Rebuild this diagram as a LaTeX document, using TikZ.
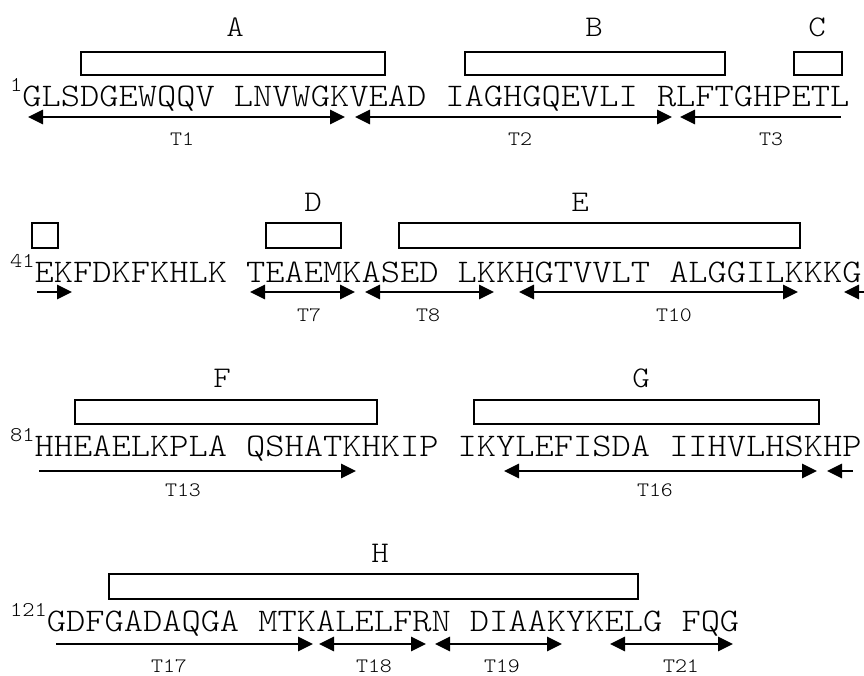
\documentclass[tikz,border=0pt]{standalone}
\usepackage{fontspec}
\setmonofont{Latin Modern Mono Light}[FakeStretch=1.11]
\usetikzlibrary{arrows.meta}
\newcommand{\seqfont}{\ttfamily\fontsize{33}{33}\selectfont}
\newcommand{\helfont}{\ttfamily\fontsize{30}{30}\selectfont}
\newcommand{\supfont}{\ttfamily\fontsize{21}{21}\selectfont}
\newcommand{\tlabfont}{\ttfamily\fontsize{20.5}{20.5}\selectfont}
\newcommand{\seqrow}[2]{\raisebox{15pt}{\supfont #1}{\seqfont #2}}
\tikzset{
  seq/.style={anchor=base west, inner sep=0pt},
  hlab/.style={anchor=base, inner sep=0pt, font=\helfont},
  tlab/.style={anchor=base, inner sep=0pt, font=\tlabfont},
  helix/.style={draw, line width=2.4pt, fill=white},
  tarrow/.style={line width=2.8pt, {Triangle[length=15pt,width=14pt]}-{Triangle[length=15pt,width=14pt]}},
  rarrow/.style={line width=2.8pt, -{Triangle[length=15pt,width=14pt]}},
  larrow/.style={line width=2.8pt, {Triangle[length=15pt,width=14pt]}-},
}
\begin{document}
\begin{tikzpicture}[x=1pt,y=-1pt]
\useasboundingbox (0,0) rectangle (864,675);
% ---- row 1
\node[seq] (r1) at (10,106) {\seqrow{1}{GLSDGEWQQV LNVWGKVEAD IAGHGQEVLI RLFTGHPETL}};
\draw[helix] (81,52) rectangle (385,75);
\draw[helix] (465,52) rectangle (725,75);
\draw[helix] (794,52) rectangle (842,75);
\node[hlab] (lA) at (235,36) {A};
\node[hlab] (lB) at (594,36) {B};
\node[hlab] (lC) at (817,36) {C};
\draw[tarrow] (28,117) -- (345,117);
\draw[tarrow] (355,117) -- (672,117);
\draw[larrow] (680,117) -- (841,117);
\node[tlab] (t1) at (182,145) {T1};
\node[tlab] (t2) at (520,145) {T2};
\node[tlab] (t3) at (771,145) {T3};
% ---- row 2
\node[seq] (r2) at (10,282) {\seqrow{41}{EKFDKFKHLK TEAEMKASED LKKHGTVVLT ALGGILKKKG}};
\draw[helix] (32,223) rectangle (58,248);
\draw[helix] (266,223) rectangle (341,248);
\draw[helix] (399,223) rectangle (800,248);
\node[hlab] (lD) at (313,211) {D};
\node[hlab] (lE) at (580,211) {E};
\draw[rarrow] (37,292) -- (72,292);
\draw[tarrow] (250,292) -- (355,292);
\draw[tarrow] (365,292) -- (494,292);
\draw[tarrow] (519,292) -- (798,292);
\draw[larrow] (844,292) -- (870,292);
\node[tlab] (t7) at (309,321) {T7};
\node[tlab] (t8) at (428,321) {T8};
\node[tlab] (t10) at (674,321) {T10};
% ---- row 3
\node[seq] (r3) at (10,456) {\seqrow{81}{HHEAELKPLA QSHATKHKIP IKYLEFISDA IIHVLHSKHP}};
\draw[helix] (75,400) rectangle (377,424);
\draw[helix] (474,400) rectangle (819,424);
\node[hlab] (lF) at (222,387) {F};
\node[hlab] (lG) at (641,387) {G};
\draw[rarrow] (39,471) -- (356,471);
\draw[tarrow] (504,471) -- (817,471);
\draw[larrow] (827,471) -- (853,471);
\node[tlab] (t13) at (183,496) {T13};
\node[tlab] (t16) at (655,496) {T16};
% ---- row 4
\node[seq] (r4) at (10,631) {\seqrow{121}{GDFGADAQGA MTKALELFRN DIAAKYKELG FQG}};
\draw[helix] (109,574) rectangle (638,599);
\node[hlab] (lH) at (380,562) {H};
\draw[rarrow] (56,644) -- (313,644);
\draw[tarrow] (319,644) -- (426,644);
\draw[tarrow] (435,644) -- (562,644);
\draw[tarrow] (610,644) -- (733,644);
\node[tlab] (t17) at (169,672) {T17};
\node[tlab] (t18) at (374,672) {T18};
\node[tlab] (t19) at (502,672) {T19};
\node[tlab] (t21) at (681,672) {T21};
\end{tikzpicture}
\end{document}
